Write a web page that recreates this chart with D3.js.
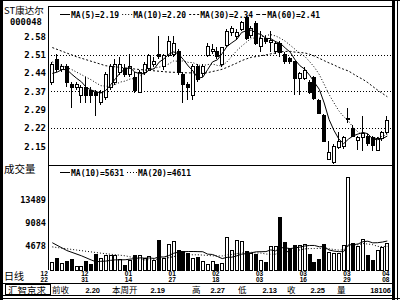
<!DOCTYPE html>
<html>
<head>
<meta charset="utf-8">
<script src="https://cdn.jsdelivr.net/npm/d3@7"></script>
<style>
body { margin: 0; background: #fff; }
svg { display: block; }
.num { font-family: "DejaVu Sans Mono", monospace; font-weight: bold; fill: #000; }
.sml { font-family: "Liberation Sans", Arial, sans-serif; font-weight: bold; fill: #000; }
.cjk { font-family: "Noto Sans CJK SC", sans-serif; fill: #000; }
.axis path, .axis line { display: none; }
</style>
</head>
<body>
<script>
// layout of the terminal window
const SCREEN = {
    width: 400, height: 300,
    plotLeft: 48, plotRight: 393,
    priceTop: 6, priceBottom: 165,
    volBottom: 270.4
};

// ---- data ----
const dates = [
    '12/22','12/23','12/24','12/27','12/28','12/29','12/30','12/31',
    '01/04','01/05','01/06','01/07','01/10','01/11','01/12','01/13','01/14','01/17','01/18','01/19',
    '01/20','01/21','01/24','01/25','01/26','01/27','01/28','01/31',
    '02/01','02/02','02/03','02/04','02/16','02/17','02/18','02/21','02/22','02/23','02/24','02/25','02/28',
    '03/01','03/02','03/03','03/04','03/07','03/08','03/09','03/10','03/11','03/14','03/15','03/16',
    '03/17','03/18','03/21','03/22','03/23','03/24','03/25','03/28','03/29','03/30','03/31',
    '04/01','04/04','04/05','04/06','04/07','04/08'
];
const opens = [2.40,2.49,2.45,2.46,2.39,2.38,2.35,2.38,2.37,2.36,
    2.32,2.34,2.38,2.40,2.44,2.455,2.43,2.42,2.36,2.44,
    2.455,2.47,2.51,2.46,2.505,2.51,2.52,2.43,2.39,2.35,
    2.46,2.435,2.505,2.52,2.52,2.47,2.545,2.595,2.58,2.605,
    2.655,2.585,2.63,2.54,2.572,2.555,2.52,2.55,2.51,2.495,
    2.48,2.415,2.415,2.40,2.42,2.33,2.27,2.10,2.085,2.146,
    2.148,2.255,2.22,2.173,2.183,2.19,2.185,2.135,2.18,2.205];
const highs = [2.48,2.51,2.47,2.47,2.40,2.40,2.39,2.42,2.38,2.37,
    2.37,2.44,2.47,2.49,2.50,2.47,2.51,2.44,2.45,2.48,
    2.51,2.50,2.58,2.51,2.58,2.58,2.53,2.44,2.40,2.47,
    2.47,2.47,2.555,2.55,2.54,2.54,2.61,2.62,2.61,2.64,
    2.66,2.62,2.64,2.60,2.58,2.60,2.56,2.56,2.52,2.50,
    2.485,2.44,2.46,2.41,2.425,2.335,2.275,2.17,2.16,2.205,
    2.19,2.30,2.235,2.19,2.27,2.20,2.19,2.185,2.21,2.27];
const lows = [2.39,2.44,2.44,2.38,2.30,2.37,2.32,2.32,2.32,2.27,
    2.31,2.33,2.37,2.39,2.43,2.42,2.42,2.36,2.36,2.43,
    2.45,2.46,2.49,2.45,2.50,2.50,2.43,2.32,2.33,2.33,
    2.40,2.42,2.50,2.51,2.49,2.46,2.54,2.58,2.565,2.60,
    2.565,2.575,2.545,2.52,2.55,2.52,2.51,2.50,2.47,2.47,
    2.35,2.35,2.41,2.355,2.33,2.275,2.165,2.095,2.08,2.14,
    2.14,2.24,2.185,2.135,2.13,2.15,2.13,2.13,2.17,2.20];
const closes = [2.47,2.45,2.46,2.40,2.38,2.39,2.38,2.35,2.35,2.35,
    2.36,2.43,2.46,2.47,2.47,2.43,2.46,2.37,2.44,2.47,
    2.505,2.48,2.50,2.505,2.56,2.55,2.44,2.39,2.38,2.46,
    2.41,2.46,2.54,2.53,2.50,2.535,2.60,2.61,2.595,2.635,
    2.57,2.61,2.55,2.57,2.56,2.565,2.55,2.515,2.48,2.48,
    2.415,2.435,2.447,2.362,2.338,2.28,2.17,2.125,2.15,2.17,
    2.186,2.26,2.19,2.185,2.20,2.16,2.155,2.18,2.205,2.25];
const volumes = [1475,2317,1360,1800,2125,840,710,1800,1170,2950,
    2317,2760,2760,2760,2125,1034,1900,2760,2760,2317,
    2600,1900,5820,2300,5000,5500,3900,3580,3270,2317,
    2400,1666,1200,1666,1225,1360,6340,3900,5800,5500,
    3580,3270,2950,1860,1475,4540,4540,10090,5300,4230,
    4835,4800,5000,2950,1475,2000,5000,3500,3200,3150,
    4860,17830,5190,4500,5824,2800,1900,3800,4400,5206];

// moving-average values before enough days are on screen, [day index, value]
const ma5Early = [[0, 2.435], [1, 2.44], [2, 2.45], [3, 2.45]];
const ma10Early = [[0, 2.48], [4, 2.45], [8, 2.41]];
const ma30Early = [[0, 2.536], [5, 2.50], [11, 2.465], [18, 2.45], [24, 2.44], [28, 2.437]];
const vma10Early = [[0, 5300], [3, 3800], [6, 2800], [8, 2000]];
const vma20Early = [[0, 4500], [5, 3900], [10, 3300], [15, 2800], [18, 2200]];

const priceTickValues = [2.15, 2.2217, 2.2933, 2.3651, 2.4367, 2.5083, 2.58];
const priceTickLabels = ['2.15', '2.22', '2.29', '2.37', '2.44', '2.51', '2.58'];
const priceGridValues = [2.2217, 2.3651, 2.5083];
const volTickValues = [4678, 9084, 13489];
const dateLabelIdx = [0, 7, 16, 25, 34, 43, 52, 61, 69];

const priceLegend = [
    { label: 'MA(5)=2.19', dash: null },
    { label: 'MA(10)=2.20', dash: '1,2' },
    { label: 'MA(30)=2.34', dash: '2,2' },
    { label: 'MA(60)=2.41', dash: '4,2' }
];
const volLegend = [
    { label: 'MA(10)=5631', dash: null },
    { label: 'MA(20)=4611', dash: '1,2' }
];
const statusItems = [
    ['前收', '2.20'], ['本周开', '2.19'], ['高', '2.27'],
    ['低', '2.13'], ['收', '2.25'], ['量', '18106']
];

// ---- svg ----
const svg = d3.select('body').append('svg')
    .attr('width', SCREEN.width)
    .attr('height', SCREEN.height);

const xScale = d3.scalePoint()
    .domain(dates)
    .range([52.3, 387.3]);
const px = i => Math.round(xScale(dates[i]));

const yPrice = d3.scaleLinear()
    .domain([2.15, 2.58])
    .range([146.3, 36.3]);

const yVol = d3.scaleLinear()
    .domain([0, 18000])
    .range([SCREEN.volBottom, SCREEN.volBottom - 18000 * 0.005222]);

// frame
const frame = svg.append('g').attr('stroke', '#000').attr('shape-rendering', 'crispEdges');
frame.append('rect').attr('x', 0).attr('y', 0).attr('width', 2).attr('height', 300).attr('fill', '#000');
frame.append('line').attr('x1', 0).attr('x2', 400).attr('y1', 0.5).attr('y2', 0.5);
frame.append('line').attr('x1', 0).attr('x2', 400).attr('y1', 298.5).attr('y2', 298.5);
frame.append('rect').attr('x', 392).attr('y', 0).attr('width', 2).attr('height', 300).attr('fill', '#000');
frame.append('line').attr('x1', 397.5).attr('x2', 397.5).attr('y1', 0).attr('y2', 300);
frame.append('line').attr('x1', SCREEN.plotLeft).attr('x2', SCREEN.plotRight).attr('y1', 6.5).attr('y2', 6.5);
frame.append('line').attr('x1', SCREEN.plotLeft + 0.5).attr('x2', SCREEN.plotLeft + 0.5).attr('y1', 6).attr('y2', 270);
frame.append('line').attr('x1', SCREEN.plotLeft).attr('x2', SCREEN.plotRight).attr('y1', 165.5).attr('y2', 165.5);
frame.append('line').attr('x1', 0).attr('x2', 393).attr('y1', 283.5).attr('y2', 283.5);
frame.append('line').attr('x1', 0).attr('x2', 393).attr('y1', 295.5).attr('y2', 295.5);
frame.append('rect').attr('x', 5.5).attr('y', 284.5).attr('width', 45).attr('height', 10).attr('fill', 'none');

// dotted grid in the price panel
const grid = svg.append('g')
    .attr('transform', `translate(${SCREEN.plotLeft},0)`)
    .call(d3.axisLeft(yPrice).tickValues(priceGridValues).tickSize(-(SCREEN.plotRight - SCREEN.plotLeft)).tickFormat(''));
grid.select('.domain').remove();
grid.selectAll('line')
    .attr('stroke', '#000')
    .attr('stroke-dasharray', '1,2')
    .attr('shape-rendering', 'crispEdges');

// price axis labels
const priceAxis = svg.append('g')
    .attr('class', 'axis')
    .attr('transform', `translate(46,0)`)
    .call(d3.axisLeft(yPrice).tickValues(priceTickValues).tickSize(0).tickPadding(0)
        .tickFormat((d, i) => priceTickLabels[i]));
priceAxis.selectAll('text').attr('class', 'num').attr('font-size', 9).attr('font-family', null);

// volume axis labels
const volAxis = svg.append('g')
    .attr('class', 'axis')
    .attr('transform', `translate(46,0)`)
    .call(d3.axisLeft(yVol).tickValues(volTickValues).tickSize(0).tickPadding(0).tickFormat(d3.format('d')));
volAxis.selectAll('text').attr('class', 'num').attr('font-size', 8.6).attr('font-family', null);

// candles
const idx = d3.range(dates.length);
const candles = svg.append('g').attr('shape-rendering', 'crispEdges');
candles.selectAll('line')
    .data(idx)
    .join('line')
    .attr('x1', i => px(i) - 0.5).attr('x2', i => px(i) - 0.5)
    .attr('y1', i => yPrice(highs[i])).attr('y2', i => yPrice(lows[i]))
    .attr('stroke', '#000');
candles.selectAll('rect')
    .data(idx)
    .join('rect')
    .attr('x', i => px(i) - 1.5)
    .attr('width', 3)
    .attr('y', i => yPrice(Math.max(opens[i], closes[i])))
    .attr('height', i => Math.max(1, Math.abs(yPrice(opens[i]) - yPrice(closes[i]))))
    .attr('fill', i => closes[i] >= opens[i] ? '#fff' : '#000')
    .attr('stroke', '#000');

// moving averages
const movingAvg = (vals, n, early) => {
    const pts = early.map(([i, v]) => ({ i, v }));
    for (let i = n - 1; i < vals.length; i++) {
        pts.push({ i, v: d3.mean(vals.slice(i - n + 1, i + 1)) });
    }
    return pts;
};
const maDefs = [
    { n: 5, early: ma5Early, dash: null },
    { n: 10, early: ma10Early, dash: '1,2' },
    { n: 30, early: ma30Early, dash: '2,2' }
];
const priceLine = d3.line().x(d => xScale(dates[d.i])).y(d => yPrice(d.v));
svg.append('g').selectAll('path')
    .data(maDefs)
    .join('path')
    .attr('d', m => priceLine(movingAvg(closes, m.n, m.early)))
    .attr('fill', 'none')
    .attr('stroke', '#000')
    .attr('stroke-width', 1)
    .attr('stroke-dasharray', m => m.dash);

// volume bars
svg.append('g').attr('shape-rendering', 'crispEdges')
    .selectAll('rect')
    .data(idx)
    .join('rect')
    .attr('x', i => px(i) - 1.5)
    .attr('width', 3)
    .attr('y', i => yVol(volumes[i]))
    .attr('height', i => SCREEN.volBottom - yVol(volumes[i]))
    .attr('fill', i => closes[i] >= opens[i] ? '#fff' : '#000')
    .attr('stroke', '#000');

const volLine = d3.line().x(d => xScale(dates[d.i])).y(d => yVol(d.v));
svg.append('g').selectAll('path')
    .data([
        { n: 10, early: vma10Early, dash: null },
        { n: 20, early: vma20Early, dash: '1,2' }
    ])
    .join('path')
    .attr('d', m => volLine(movingAvg(volumes, m.n, m.early)))
    .attr('fill', 'none')
    .attr('stroke', '#000')
    .attr('stroke-dasharray', m => m.dash);

// legends
const drawLegend = (items, x0, y) => {
    const g = svg.append('g');
    let x = x0;
    items.forEach(it => {
        g.append('line')
            .attr('x1', x).attr('x2', x + 10).attr('y1', y - 3.5).attr('y2', y - 3.5)
            .attr('stroke', '#000').attr('stroke-dasharray', it.dash);
        const t = g.append('text')
            .attr('class', 'num').attr('font-size', 8)
            .attr('x', x + 11).attr('y', y)
            .text(it.label);
        x += 11 + t.node().getComputedTextLength() + 3;
    });
};
drawLegend(priceLegend, 60, 18);
drawLegend(volLegend, 60, 176);

// side labels
svg.append('text').attr('class', 'cjk').attr('font-size', 9.5).attr('x', 4).attr('y', 14).text('ST康达尔');
svg.append('text').attr('class', 'num').attr('font-size', 8.8).attr('x', 10).attr('y', 25).text('000048');
svg.append('text').attr('class', 'cjk').attr('font-size', 10.5).attr('x', 4).attr('y', 173).text('成交量');
svg.append('text').attr('class', 'cjk').attr('font-size', 10).attr('x', 4).attr('y', 279.5).text('日线');

// date labels (month over day)
const dateG = svg.append('g');
dateLabelIdx.forEach((i, k) => {
    const [mm, dd] = dates[i].split('/');
    const first = k === 0;
    const x = first ? xScale(dates[i]) - 4.5 : xScale(dates[i]) - 1.5;
    const t = dateG.append('text')
        .attr('class', 'sml').attr('font-size', 6.5)
        .attr('text-anchor', first ? 'end' : 'middle');
    t.append('tspan').attr('x', x).attr('y', 275.5).text(mm);
    t.append('tspan').attr('x', x).attr('y', 282).text(dd);
});

// status bar
svg.append('text').attr('class', 'cjk').attr('font-size', 9.5).attr('x', 8).attr('y', 293.5).text('汇智京求');
const statusX = [[52, 100], [112, 165], [192, 225], [238, 277], [287, 325], [337, 391]];
statusItems.forEach(([lab, val], k) => {
    svg.append('text').attr('class', 'cjk').attr('font-size', 8.5)
        .attr('x', statusX[k][0]).attr('y', 293).text(lab);
    svg.append('text').attr('class', 'sml').attr('font-size', 7.5)
        .attr('text-anchor', 'end')
        .attr('x', statusX[k][1]).attr('y', 293).text(val);
});
</script>
</body>
</html>
